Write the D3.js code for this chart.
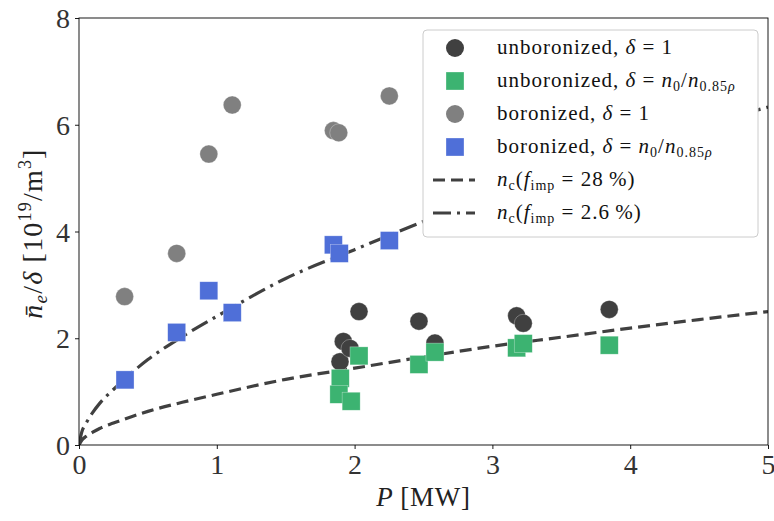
<!DOCTYPE html>
<html>
<head>
<meta charset="utf-8">
<script src="https://cdn.jsdelivr.net/npm/d3@7"></script>
<style>
  body { margin: 0; background: #fff; }
  svg text { font-family: "Liberation Serif", "Times New Roman", serif; }
</style>
</head>
<body>
<svg id="chart"></svg>
<script>
// P [MW] and density values
const unbDeltaOneP = [1.894, 1.918, 1.967, 2.032, 2.467, 2.583, 3.176, 3.224, 3.848];
const unbDeltaOneN = [1.56, 1.94, 1.81, 2.50, 2.32, 1.91, 2.42, 2.28, 2.54];

const unbPeakP = [1.896, 1.886, 1.975, 2.032, 2.467, 2.583, 3.176, 3.224, 3.848];
const unbPeakN = [1.25, 0.95, 0.82, 1.67, 1.51, 1.74, 1.82, 1.90, 1.87];

const borDeltaOneP = [0.331, 0.709, 0.942, 1.112, 1.846, 1.885, 2.252];
const borDeltaOneN = [2.78, 3.59, 5.45, 6.37, 5.89, 5.85, 6.54];

const borPeakP = [0.334, 0.709, 0.942, 1.112, 1.846, 1.889, 2.252];
const borPeakN = [1.22, 2.11, 2.89, 2.48, 3.75, 3.59, 3.83];

// critical density curves
const curveP = [0, 0.02, 0.05, 0.1, 0.15, 0.25, 0.5, 0.75, 1, 1.5, 2, 2.5, 3, 3.5, 4, 4.5, 5];
const nc28 = [0, 0.09, 0.158, 0.24, 0.31, 0.41, 0.63, 0.80, 0.95, 1.23, 1.44, 1.65, 1.85, 2.02, 2.19, 2.35, 2.50];
const nc26 = [0, 0.24, 0.40, 0.61, 0.78, 1.04, 1.60, 2.03, 2.41, 3.12, 3.66, 4.19, 4.70, 5.13, 5.56, 5.97, 6.33];

const xTicks = [0, 1, 2, 3, 4, 5];
const yTicks = [0, 2, 4, 6, 8];

const width = 774, height = 521;
const margin = { top: 18, right: 6, bottom: 76, left: 79 };

const svg = d3.select("#chart").attr("width", width).attr("height", height);

const x = d3.scaleLinear().domain([0, 5]).range([margin.left, width - margin.right]);
const y = d3.scaleLinear().domain([0, 8]).range([height - margin.bottom, margin.top]);

const dark = "#404040";

// curves (under the markers)
const line = d3.line().x(d => x(d[0])).y(d => y(d[1])).curve(d3.curveMonotoneX);

svg.append("clipPath").attr("id", "clip").append("rect")
  .attr("x", x(0)).attr("y", y(8)).attr("width", x(5) - x(0)).attr("height", y(0) - y(8));
const plot = svg.append("g").attr("clip-path", "url(#clip)");

plot.append("path")
  .datum(curveP.map((p, i) => [p, nc28[i]]))
  .attr("d", line)
  .attr("fill", "none")
  .attr("stroke", dark)
  .attr("stroke-width", 3.2)
  .attr("stroke-dasharray", "12,6");

plot.append("path")
  .datum(curveP.map((p, i) => [p, nc26[i]]))
  .attr("d", line)
  .attr("fill", "none")
  .attr("stroke", dark)
  .attr("stroke-width", 3.2)
  .attr("stroke-dasharray", "18,6,3,6");

const msize = 18;

function circles(ps, ns, color) {
  plot.append("g").selectAll("circle")
    .data(ps.map((p, i) => [p, ns[i]]))
    .enter().append("circle")
    .attr("cx", d => x(d[0]))
    .attr("cy", d => y(d[1]))
    .attr("r", msize / 2)
    .attr("fill", color)
    .attr("stroke", "rgba(255,255,255,0.5)")
    .attr("stroke-width", 0.6);
}

function squares(ps, ns, color) {
  plot.append("g").selectAll("rect")
    .data(ps.map((p, i) => [p, ns[i]]))
    .enter().append("rect")
    .attr("x", d => x(d[0]) - msize / 2)
    .attr("y", d => y(d[1]) - msize / 2)
    .attr("width", msize)
    .attr("height", msize)
    .attr("fill", color)
    .attr("stroke", "rgba(255,255,255,0.5)")
    .attr("stroke-width", 0.6);
}

circles(unbDeltaOneP, unbDeltaOneN, dark);
squares(unbPeakP, unbPeakN, "#3cb371");
circles(borDeltaOneP, borDeltaOneN, "#808080");
squares(borPeakP, borPeakN, "#4f6fd8");

// frame
svg.append("rect")
  .attr("x", x(0)).attr("y", y(8))
  .attr("width", x(5) - x(0)).attr("height", y(0) - y(8))
  .attr("fill", "none").attr("stroke", "#000").attr("stroke-width", 0.9);

// axes
const xAxis = svg.append("g")
  .attr("transform", `translate(0,${y(0)})`)
  .call(d3.axisBottom(x).tickValues(xTicks).tickSize(4).tickPadding(5).tickFormat(d3.format("d")));
const yAxis = svg.append("g")
  .attr("transform", `translate(${x(0)},0)`)
  .call(d3.axisLeft(y).tickValues(yTicks).tickSize(4).tickPadding(5).tickFormat(d3.format("d")));

[xAxis, yAxis].forEach(a => {
  a.select(".domain").remove();
  a.attr("font-family", null);
  a.selectAll("line").attr("stroke", "#000").attr("stroke-width", 0.9);
  a.selectAll("text").attr("font-size", 28).attr("fill", "#333");
});
yAxis.selectAll("text").attr("dy", "0.34em");

// axis labels
svg.append("text")
  .attr("x", (x(0) + x(5)) / 2)
  .attr("y", 506)
  .attr("text-anchor", "middle")
  .attr("font-size", 27)
  .attr("fill", "#222")
  .call(t => {
    t.append("tspan").attr("font-style", "italic").text("P");
    t.append("tspan").attr("letter-spacing", 0.8).text(" [MW]");
  });

const yl = svg.append("text")
  .attr("transform", `translate(42,${(y(0) + y(8)) / 2 + 2}) rotate(-90)`)
  .attr("text-anchor", "middle")
  .attr("font-size", 28)
  .attr("fill", "#222")
  .attr("letter-spacing", 1.2);
yl.append("tspan").attr("font-style", "italic").text("n\u0304");
yl.append("tspan").attr("font-style", "italic").attr("font-size", 19).attr("dy", 5).text("e");
yl.append("tspan").attr("dy", -5).text("/");
yl.append("tspan").attr("font-style", "italic").text("δ");
yl.append("tspan").text(" [10");
yl.append("tspan").attr("font-size", 18).attr("dy", -11).text("19");
yl.append("tspan").attr("dy", 11).text("/m");
yl.append("tspan").attr("font-size", 18).attr("dy", -11).text("3");
yl.append("tspan").attr("dy", 11).text("]");

// legend
const lg = svg.append("g");
lg.append("rect")
  .attr("x", 423).attr("y", 30).attr("width", 335).attr("height", 207)
  .attr("rx", 4).attr("fill", "#ffffff")
  .attr("stroke", "#cccccc").attr("stroke-width", 1);

const rowY = [48, 81, 114, 147, 180, 213];
const fs = 21;
const sub = 14;

function deltaPeak(t) {
  t.append("tspan").attr("font-style", "italic").text("δ");
  t.append("tspan").text(" = ");
  t.append("tspan").attr("font-style", "italic").text("n");
  t.append("tspan").attr("font-size", sub).attr("dy", 4).text("0");
  t.append("tspan").attr("dy", -4).text("/");
  t.append("tspan").attr("font-style", "italic").text("n");
  t.append("tspan").attr("font-size", sub).attr("dy", 4).text("0.85");
  t.append("tspan").attr("font-size", sub).attr("font-style", "italic").text("ρ");
}
function deltaOne(t) {
  t.append("tspan").attr("font-style", "italic").text("δ");
  t.append("tspan").text(" = 1");
}
function ncLabel(pct) {
  return t => {
    t.append("tspan").attr("font-style", "italic").text("n");
    t.append("tspan").attr("font-size", sub).attr("dy", 4).text("c");
    t.append("tspan").attr("dy", -4).text("(");
    t.append("tspan").attr("font-style", "italic").text("f");
    t.append("tspan").attr("font-size", sub).attr("dy", 4).text("imp");
    t.append("tspan").attr("dy", -4).text(" = " + pct + "\u2009%)");
  };
}

const legendItems = [
  { kind: "circle", color: dark, pre: "unboronized, ", rest: deltaOne },
  { kind: "square", color: "#3cb371", pre: "unboronized, ", rest: deltaPeak },
  { kind: "circle", color: "#808080", pre: "boronized, ", rest: deltaOne },
  { kind: "square", color: "#4f6fd8", pre: "boronized, ", rest: deltaPeak },
  { kind: "line", dash: "12,6", pre: "", rest: ncLabel("28") },
  { kind: "line", dash: "18,6,3,6", pre: "", rest: ncLabel("2.6") }
];

legendItems.forEach((it, i) => {
  const cy = rowY[i];
  if (it.kind === "circle") {
    lg.append("circle").attr("cx", 455).attr("cy", cy).attr("r", msize / 2).attr("fill", it.color);
  } else if (it.kind === "square") {
    lg.append("rect").attr("x", 455 - msize / 2).attr("y", cy - msize / 2)
      .attr("width", msize).attr("height", msize).attr("fill", it.color)
      .attr("stroke", "rgba(255,255,255,0.5)").attr("stroke-width", 0.6);
  } else {
    lg.append("line").attr("x1", 433).attr("x2", 475).attr("y1", cy).attr("y2", cy)
      .attr("stroke", dark).attr("stroke-width", 3.2).attr("stroke-dasharray", it.dash);
  }
  const t = lg.append("text").attr("x", 497).attr("y", cy + 6)
    .attr("font-size", fs).attr("fill", "#111").attr("letter-spacing", 1);
  if (it.pre) t.append("tspan").text(it.pre);
  it.rest(t);
});
</script>
</body>
</html>
